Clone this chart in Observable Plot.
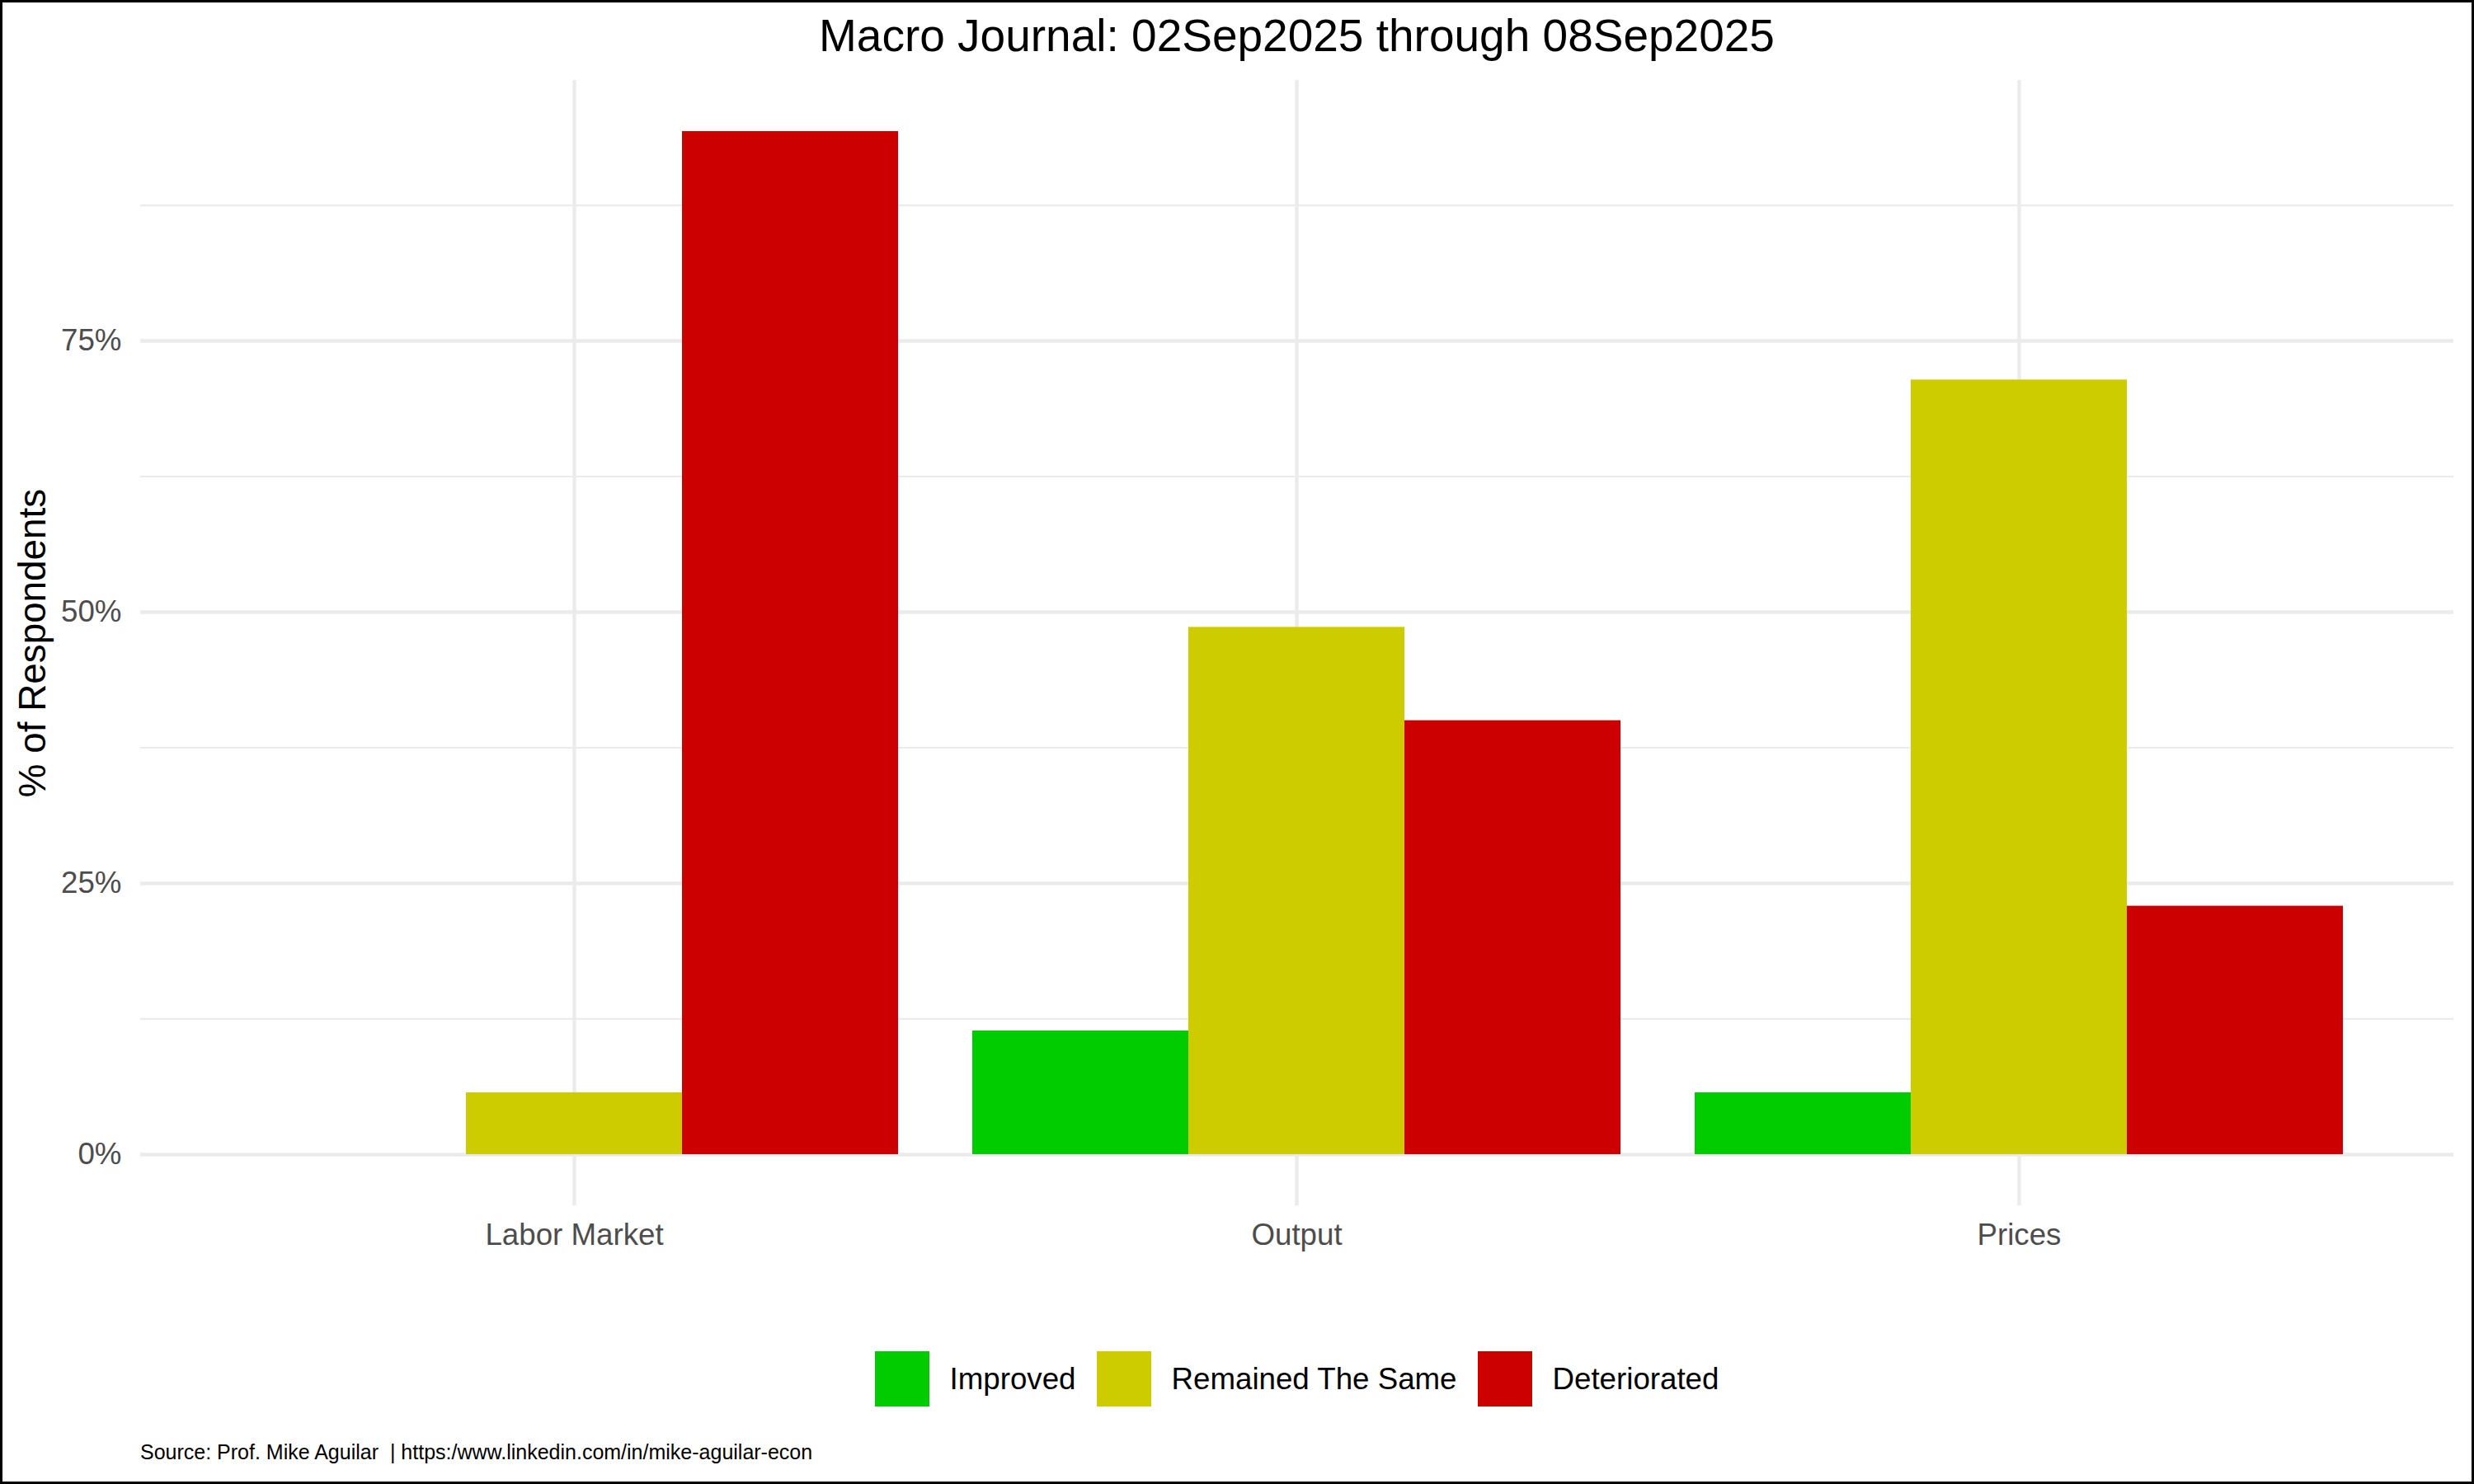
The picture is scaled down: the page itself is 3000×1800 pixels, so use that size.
<!DOCTYPE html>
<html>
<head>
<meta charset="utf-8">
<script src="https://cdn.jsdelivr.net/npm/d3@7"></script>
<script src="https://cdn.jsdelivr.net/npm/@observablehq/plot@0.6"></script>
<style>
html, body { margin: 0; padding: 0; background: #fff; }
#chart { position: relative; width: 3000px; height: 1800px; overflow: hidden; background: #fff;
  font-family: "Liberation Sans", Arial, Helvetica, sans-serif; }
#title { position: absolute; left: 170px; width: 2805px; top: 16px; text-align: center;
  font-size: 55px; line-height: 55px; color: #000; white-space: nowrap; }
#ylabel { position: absolute; left: -260px; top: 757px; width: 600px; height: 46px; text-align: center;
  font-size: 45.8px; line-height: 45.8px; color: #000; transform: rotate(-90deg); white-space: nowrap; z-index: 5; }
.layer { position: absolute; left: 0; top: 90px; width: 3000px; height: 1460px; }
.layer svg { display: block; }
#legend { position: absolute; left: 170px; width: 2805px; top: 1639px; height: 67px; display: flex;
  justify-content: center; align-items: center; font-size: 36.7px; color: #000; }
#legend .key { width: 66px; height: 67px; flex: none; }
#legend .lab { margin-left: 25px; margin-right: 25px; white-space: nowrap; line-height: 40px; }
#legend .lab:last-child { margin-right: 0; }
#caption { position: absolute; left: 170px; top: 1749px; font-size: 25px; line-height: 25px; color: #000; white-space: pre; }
#border { position: absolute; left: 0; top: 0; width: 3000px; height: 1800px; box-sizing: border-box;
  border: 3px solid #000; pointer-events: none; z-index: 10; }
</style>
</head>
<body>
<div id="chart">
  <div id="title">Macro Journal: 02Sep2025 through 08Sep2025</div>
  <div id="bg" class="layer"></div>
  <div id="fg" class="layer"></div>
  <div id="ylabel">% of Respondents</div>
  <div id="legend"></div>
  <div id="caption">Source: Prof. Mike Aguilar  | https:/www.linkedin.com/in/mike-aguilar-econ</div>
  <div id="border"></div>
</div>
<script>
// ---- data ----
const categories = ["Labor Market", "Output", "Prices"];
const responses = ["Improved", "Remained The Same", "Deteriorated"];
const improved = [0, 11.4, 5.7];
const remainedSame = [5.7, 48.6, 71.4];
const deteriorated = [94.3, 40.0, 22.9];
const yTicks = [0, 25, 50, 75];
const yMinorTicks = [12.5, 37.5, 62.5, 87.5];
const palette = ["#00CC00", "#CCCC00", "#CC0000"];

const series = [improved, remainedSame, deteriorated];
const rows = categories.flatMap((c, i) =>
  responses.map((r, j) => ({category: c, response: r, value: series[j][i]})));

const yMax = d3.max(rows, d => d.value);
const pad = 0.05 * yMax;
const yDomain = [-pad, yMax + pad];

const dims = {width: 3000, height: 1460, marginLeft: 170, marginRight: 25, marginTop: 7, marginBottom: 88};
const font = "Liberation Sans, Arial, Helvetica, sans-serif";
const grid = "#EBEBEB";

// background: gridlines and axes
const bg = Plot.plot({
  ...dims,
  style: {background: "white", fontFamily: font, fontSize: "36.7px", color: "#4D4D4D", overflow: "visible"},
  x: {type: "band", domain: categories, paddingInner: 0.1, paddingOuter: 0.15, tickSize: 0, tickPadding: 21, label: null},
  y: {domain: yDomain, ticks: yTicks, tickFormat: d => d + "%", tickSize: 0, tickPadding: 23, label: null},
  marks: [
    Plot.ruleY(yMinorTicks, {stroke: grid, strokeWidth: 2.2}),
    Plot.ruleY(yTicks, {stroke: grid, strokeWidth: 4.4}),
    Plot.ruleX(categories, {stroke: grid, strokeWidth: 4.4})
  ]
});
document.getElementById("bg").appendChild(bg);

// foreground: dodged bars via facets
const fg = Plot.plot({
  ...dims,
  style: {background: "transparent", fontFamily: font, fontSize: "36.7px"},
  facet: {data: rows, x: "category"},
  fx: {domain: categories, paddingInner: 0.1, paddingOuter: 0.15, axis: null, label: null},
  x: {domain: responses, padding: 0, axis: null},
  y: {domain: yDomain, axis: null},
  color: {domain: responses, range: palette},
  marks: [
    Plot.barY(rows, {x: "response", y: "value", fill: "response"})
  ]
});
document.getElementById("fg").appendChild(fg);

// legend
const legend = document.getElementById("legend");
responses.forEach((r, j) => {
  const k = document.createElement("div");
  k.className = "key";
  k.style.background = palette[j];
  legend.appendChild(k);
  const t = document.createElement("div");
  t.className = "lab";
  t.textContent = r;
  legend.appendChild(t);
});
</script>
</body>
</html>
